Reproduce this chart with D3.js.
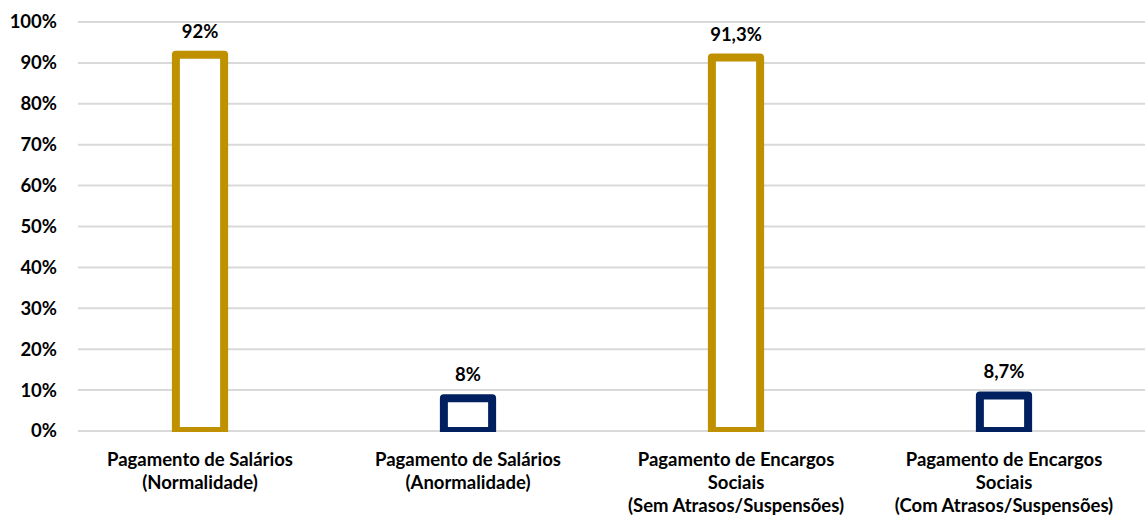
<!DOCTYPE html>
<html>
<head>
<meta charset="utf-8">
<script src="https://cdn.jsdelivr.net/npm/d3@7"></script>
<style>
  body { margin: 0; background: #fff; }
  text { font-family: Lato, "Open Sans", sans-serif; font-weight: bold; fill: #000; }
</style>
</head>
<body>
<div id="vis"></div>
<script>
var width = 1145;
var height = 521;

// data
var categories = [
  ['Pagamento de Salários', '(Normalidade)'],
  ['Pagamento de Salários', '(Anormalidade)'],
  ['Pagamento de Encargos', 'Sociais', '(Sem Atrasos/Suspensões)'],
  ['Pagamento de Encargos', 'Sociais', '(Com Atrasos/Suspensões)']
];
var values = [0.92, 0.08, 0.913, 0.087];
var valueLabels = ['92%', '8%', '91,3%', '8,7%'];
var barColors = ['#BF9000', '#002060', '#BF9000', '#002060'];
var yTicks = [0, 0.1, 0.2, 0.3, 0.4, 0.5, 0.6, 0.7, 0.8, 0.9, 1];

var fontSize = '18.5px';

var svg = d3.select('#vis').append('svg')
  .attr('width', width)
  .attr('height', height);

var x = d3.scaleBand()
  .domain(d3.range(values.length))
  .range([66, 1138])
  .paddingInner(0.82)
  .paddingOuter(0.41);

var y = d3.scaleLinear()
  .domain([0, 1])
  .range([431, 22]);

// clip the bar outlines at the baseline
svg.append('defs').append('clipPath')
    .attr('id', 'plot-clip')
  .append('rect')
    .attr('x', 0)
    .attr('y', 0)
    .attr('width', width)
    .attr('height', y(0) + 1);

// gridlines
svg.append('g')
  .selectAll('line')
  .data(yTicks)
  .enter().append('line')
    .attr('x1', 78)
    .attr('x2', width)
    .attr('y1', function (d) { return y(d); })
    .attr('y2', function (d) { return y(d); })
    .attr('stroke', '#d9d9d9')
    .attr('stroke-width', 2);

// y axis labels
svg.append('g')
  .selectAll('text')
  .data(yTicks)
  .enter().append('text')
    .attr('x', 57)
    .attr('y', function (d) { return y(d); })
    .attr('dy', '0.35em')
    .attr('text-anchor', 'end')
    .style('font-size', fontSize)
    .text(function (d) { return Math.round(d * 100) + '%'; });

// bars (outline only)
svg.append('g')
    .attr('clip-path', 'url(#plot-clip)')
  .selectAll('rect')
  .data(values)
  .enter().append('rect')
    .attr('x', function (d, i) { return x(i); })
    .attr('y', function (d) { return y(d); })
    .attr('width', x.bandwidth())
    .attr('height', function (d) { return y(0) - y(d); })
    .attr('fill', '#fff')
    .attr('stroke', function (d, i) { return barColors[i]; })
    .attr('stroke-width', 8)
    .attr('stroke-linejoin', 'round');

// value labels
svg.append('g')
  .selectAll('text')
  .data(values)
  .enter().append('text')
    .attr('x', function (d, i) { return x(i) + x.bandwidth() / 2; })
    .attr('y', function (d) { return y(d) - 17; })
    .attr('text-anchor', 'middle')
    .style('font-size', fontSize)
    .text(function (d, i) { return valueLabels[i]; });

// category labels
var cat = svg.append('g')
  .selectAll('text')
  .data(categories)
  .enter().append('text')
    .attr('text-anchor', 'middle')
    .style('font-size', fontSize);

cat.selectAll('tspan')
  .data(function (d, i) { return d.map(function (s) { return { s: s, i: i }; }); })
  .enter().append('tspan')
    .attr('x', function (d) { return x(d.i) + x.bandwidth() / 2; })
    .attr('y', function (d, j) { return 466 + j * 23; })
    .text(function (d) { return d.s; });
</script>
</body>
</html>
